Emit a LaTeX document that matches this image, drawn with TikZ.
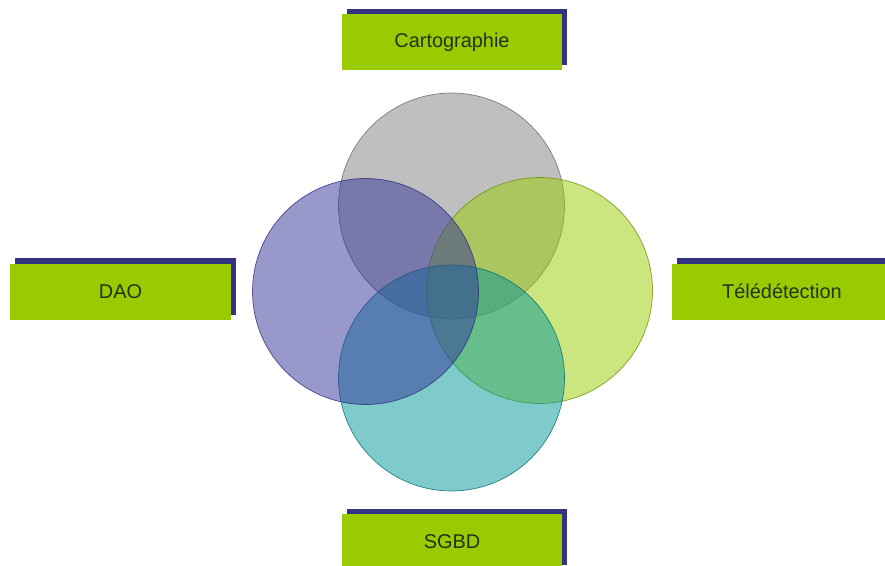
\documentclass[tikz,border=0pt]{standalone}
\usepackage{fontspec}
\setmainfont{Liberation Sans}
\usetikzlibrary{shadows}
\definecolor{boxgreen}{RGB}{153,204,0}
\definecolor{shadowblue}{RGB}{51,51,128}
\definecolor{labeltext}{RGB}{40,48,30}
\definecolor{cgray}{RGB}{128,128,128}
\definecolor{cblue}{RGB}{51,51,153}
\definecolor{cgreen}{RGB}{153,204,0}
\definecolor{cteal}{RGB}{0,153,153}
\tikzset{
  labelbox/.style={rectangle, fill=boxgreen, minimum width=220bp, minimum height=56bp,
    inner sep=0pt, font=\fontsize{20}{23}\selectfont, text=labeltext,
    drop shadow={shadow xshift=5bp, shadow yshift=5bp, fill=shadowblue, opacity=1}},
  venn/.style={circle, minimum size=226bp, inner sep=0pt, fill opacity=0.5, draw opacity=0.8, line width=0.7bp},
}
\begin{document}
\begin{tikzpicture}[x=1bp,y=-1bp]
\useasboundingbox (0,0) rectangle (885,566);
\fill[white] (0,0) rectangle (885,566);
\node[venn, fill=cgray, draw=cgray!80!black] (carto) at (451.5,206) {};
\node[venn, fill=cgreen, draw=cgreen!70!black] (tele) at (539.5,290.5) {};
\node[venn, fill=cteal, draw=cteal!70!black] (sgbd) at (451.5,378) {};
\node[venn, fill=cblue, draw=cblue!80!black] (dao) at (365.5,291.5) {};
\node[labelbox] (lcarto) at (452,42.5) {Cartographie};
\node[labelbox, minimum width=221bp] (ldao) at (120.5,291.5) {DAO};
\node[labelbox] (ltele) at (782,291.5) {Télédétection};
\node[labelbox] (lsgbd) at (452,542) {SGBD};
\end{tikzpicture}
\end{document}
